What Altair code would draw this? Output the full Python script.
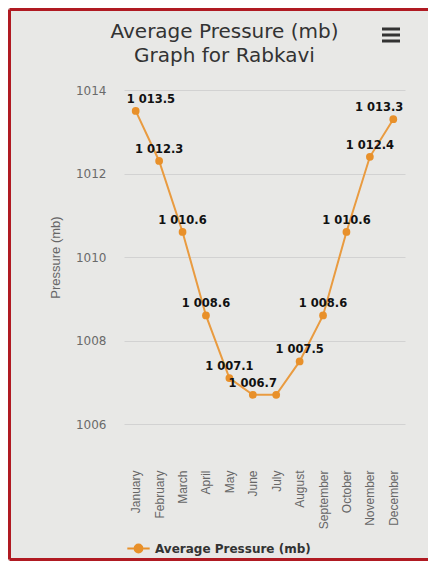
import altair as alt
import pandas as pd

months = ["January", "February", "March", "April", "May", "June",
          "July", "August", "September", "October", "November", "December"]
pressure = [1013.5, 1012.3, 1010.6, 1008.6, 1007.1, 1006.7,
            1006.7, 1007.5, 1008.6, 1010.6, 1012.4, 1013.3]
y_ticks = [1006, 1008, 1010, 1012, 1014]
series_name = "Average Pressure (mb)"
title_lines = ["Average Pressure (mb)", "Graph for Rabkavi"]

df = pd.DataFrame({
    "month": months,
    "pressure": pressure,
    "label": [f"{v:,.1f}".replace(",", " ") for v in pressure],
    "series": series_name,
})

ORANGE_LINE = "#e99b40"
ORANGE_PT = "#e8902a"

x_enc = alt.X("month:N", sort=months, title=None,
              axis=alt.Axis(labelAngle=270, labelAlign="right", labelBaseline="middle",
                            labelPadding=46, ticks=False, domain=False, grid=False,
                            labelFont="Liberation Sans", labelFontSize=12,
                            labelColor="#666666"))
y_enc = alt.Y("pressure:Q", title="Pressure (mb)",
              scale=alt.Scale(domain=[1006, 1014], nice=False, zero=False),
              axis=alt.Axis(values=y_ticks, format="d", ticks=False, domain=False, grid=True,
                            gridColor="#d2d2d2", gridWidth=1,
                            labelFont="DejaVu Sans", labelFontSize=12,
                            labelColor="#6a6a6a", labelPadding=18,
                            titleFont="Liberation Sans", titleFontSize=13,
                            titleFontWeight="normal", titleColor="#666666",
                            titlePadding=13))

color_enc = alt.Color("series:N", title=None,
                      scale=alt.Scale(range=[ORANGE_PT]),
                      legend=alt.Legend(orient="none", legendX=2, legendY=446,
                                        direction="horizontal",
                                        symbolType="M-1,0L1,0M-0.35,0A0.35,0.35 0 1,0 0.35,0A0.35,0.35 0 1,0 -0.35,0",
                                        symbolSize=500, symbolStrokeWidth=2,
                                        symbolFillColor=ORANGE_PT,
                                        symbolStrokeColor=ORANGE_PT,
                                        labelFont="DejaVu Sans", labelFontSize=12,
                                        labelFontWeight="bold", labelColor="#333333",
                                        padding=0))

base = alt.Chart(df)

line = base.mark_line(strokeWidth=2, color=ORANGE_LINE).encode(x=x_enc, y=y_enc)
points = base.mark_point(filled=True, size=60, opacity=1).encode(
    x=x_enc, y=y_enc, color=color_enc)

text_style = dict(font="DejaVu Sans", fontWeight="bold", fontSize=11.5,
                  color="#111111", baseline="alphabetic")

labels_mid = base.transform_filter(
    "datum.month != 'January' && datum.month != 'December' && datum.month != 'July'"
).mark_text(dy=-8, align="center", **text_style).encode(
    x=alt.X("month:N", sort=months), y="pressure:Q", text="label:N")
labels_first = base.transform_filter("datum.month == 'January'").mark_text(
    dy=-8, dx=-9, align="left", **text_style).encode(
    x=alt.X("month:N", sort=months), y="pressure:Q", text="label:N")
labels_last = base.transform_filter("datum.month == 'December'").mark_text(
    dy=-8, dx=10, align="right", **text_style).encode(
    x=alt.X("month:N", sort=months), y="pressure:Q", text="label:N")

# two-line chart title
title_marks = [
    alt.Chart(df.head(1)).mark_text(font="DejaVu Sans", fontSize=20, color="#333333",
                                    align="center", baseline="alphabetic",
                                    text=txt).encode(x=alt.value(100.5), y=alt.value(yy))
    for txt, yy in zip(title_lines, (-52, -28))
]

# menu icon (three bars)
menu = [alt.Chart(df.head(1)).mark_rule(strokeWidth=3, color="#333333").encode(
    x=alt.value(258), x2=alt.value(276), y=alt.value(yy)) for yy in (-61, -55, -49)]

# red frame of the photographed screen
RED = "#b01a22"
frame = [
    alt.Chart(df.head(1)).mark_rule(strokeWidth=3, color=RED).encode(
        x=alt.value(-114.5), y=alt.value(-80.5), y2=alt.value(469.5)),
    alt.Chart(df.head(1)).mark_rule(strokeWidth=3, color=RED).encode(
        x=alt.value(-114.5), x2=alt.value(304), y=alt.value(-80.5)),
    alt.Chart(df.head(1)).mark_rule(strokeWidth=3, color=RED).encode(
        x=alt.value(-114.5), x2=alt.value(304), y=alt.value(469.5)),
]

chart = alt.layer(line, points, labels_mid, labels_first, labels_last,
                  *title_marks, *menu, *frame).properties(
    width=281, height=334,
    autosize=alt.AutoSizeParams(type="none"),
    padding={"left": 116, "top": 82, "right": 23, "bottom": 137},
    background="#e8e8e6",
).configure_view(strokeWidth=0)

chart.save("out.html", embed_options={"renderer": "svg", "actions": False})
